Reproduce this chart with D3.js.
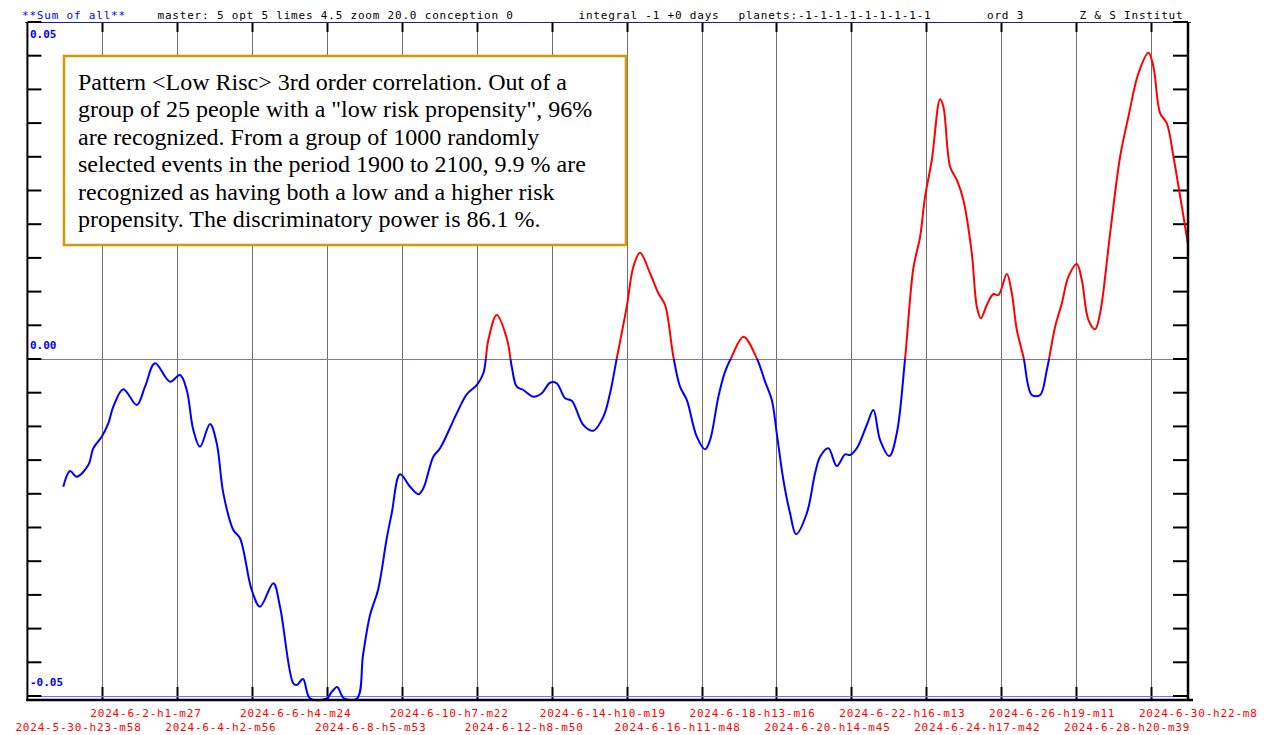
<!DOCTYPE html>
<html><head><meta charset="utf-8">
<script src="https://cdn.jsdelivr.net/npm/d3@7"></script>
<style>body{margin:0;background:#fff;overflow:hidden} svg{display:block}</style>
</head><body><svg id="c" width="1264" height="735"></svg>
<script>
// ---- data ----
const tickLabels = [
  "2024-5-30-h23-m58","2024-6-2-h1-m27","2024-6-4-h2-m56","2024-6-6-h4-m24",
  "2024-6-8-h5-m53","2024-6-10-h7-m22","2024-6-12-h8-m50","2024-6-14-h10-m19",
  "2024-6-16-h11-m48","2024-6-18-h13-m16","2024-6-20-h14-m45","2024-6-22-h16-m13",
  "2024-6-24-h17-m42","2024-6-26-h19-m11","2024-6-28-h20-m39","2024-6-30-h22-m8"
];
// offsets in days from the first tick date
const dayOffsets = [
  0.988,1.173,1.357,1.676,1.814,2.045,2.227,2.365,2.640,3.009,
  3.237,3.512,3.925,4.201,4.385,4.567,4.751,5.026,5.211,5.393,
  5.668,5.852,6.174,6.403,6.769,6.953,7.319,7.413,7.586,7.779,
  8.247,8.357,8.523,8.633,8.715,9.073,9.238,9.431,9.651,9.891,
  10.028,10.257,10.532,10.760,10.898,11.173,11.358,11.817,12.093,12.368,
  12.550,12.687,12.919,13.194,13.332,13.469,13.651,13.926,14.157,14.386,
  14.570,14.799,14.983,15.302,15.577,15.853,16.037,16.222,16.497,16.679,
  16.863,17.138,17.367,17.551,17.780,17.964,18.149,18.424,18.653,18.790,
  19.019,19.203,19.387,19.707,20.076,20.304,20.489,20.626,20.808,20.992,
  21.157,21.452,21.680,21.818,22.046,22.278,22.506,22.644,22.828,23.104,
  23.285,23.470,23.726,23.929,24.158,24.386,24.570,24.708,24.893,25.121,
  25.212,25.397,25.581,25.762,25.994,26.132,26.242,26.407,26.589,26.727,
  26.958,27.095,27.233,27.414,27.646,27.874,28.059,28.287,28.472,28.653,
  28.884,29.022,29.203,29.388,29.525,29.801,30.076,30.305,30.580,30.856,
  30.993,31.178,31.362,31.544,31.775,31.948
];
const values = [
  -0.01895,-0.01662,-0.01746,-0.01573,-0.01325,-0.01153,-0.00954,-0.00708,-0.00450,-0.00682,
  -0.00411,-0.00064,-0.00337,-0.00237,-0.00460,-0.01053,-0.01301,-0.00964,-0.01251,-0.01993,
  -0.02537,-0.02660,-0.03427,-0.03675,-0.03328,-0.03675,-0.04812,-0.04837,-0.04748,-0.05037,
  -0.05037,-0.04955,-0.04866,-0.04970,-0.05037,-0.05037,-0.04392,-0.03798,-0.03427,-0.02660,
  -0.02289,-0.01711,-0.01895,-0.02007,-0.01918,-0.01450,-0.01325,-0.00806,-0.00524,-0.00386,
  -0.00212,0.00282,0.00653,0.00307,-0.00114,-0.00411,-0.00460,-0.00559,-0.00509,-0.00352,
  -0.00361,-0.00583,-0.00619,-0.00979,-0.01064,-0.00856,-0.00509,0.00010,0.00776,0.01369,
  0.01577,0.01272,0.00975,0.00801,0.00034,-0.00411,-0.00608,-0.01153,-0.01340,-0.01202,
  -0.00559,-0.00188,0.00034,0.00331,0.00010,-0.00337,-0.00608,-0.01102,-0.01795,-0.02289,
  -0.02601,-0.02289,-0.01696,-0.01450,-0.01325,-0.01588,-0.01414,-0.01424,-0.01325,-0.00979,
  -0.00757,-0.01202,-0.01439,-0.01102,0.00010,0.01350,0.01810,0.02408,0.02953,0.03853,
  0.03743,0.02853,0.02656,0.02359,0.01568,0.00776,0.00604,0.00801,0.00964,0.00950,
  0.01261,0.00975,0.00430,0.00034,-0.00534,-0.00534,-0.00163,0.00479,0.00826,0.01221,
  0.01409,0.01172,0.00579,0.00441,0.00678,0.01865,0.03001,0.03595,0.04239,0.04545,
  0.04337,0.03645,0.03497,0.03001,0.02260,0.01691
];
const yLabelValues = [0.05, 0.00, -0.05];
const yLabelTexts = ["0.05", "0.00", "-0.05"];
const headerTexts = [
  "**Sum of all**",
  "master: 5  opt 5 limes 4.5 zoom 20.0  conception 0",
  "integral -1 +0 days",
  "planets:-1-1-1-1-1-1-1-1-1",
  "ord 3",
  "Z & S Institut"
];
const noteLines = [
  "Pattern <Low Risc> 3rd order correlation. Out of a",
  "group of 25 people with a \"low risk propensity\", 96%",
  "are recognized. From a group of 1000 randomly",
  "selected events in the period 1900 to 2100, 9.9 % are",
  "recognized as having both a low and a higher risk",
  "propensity. The discriminatory power is 86.1 %."
];

// ---- layout ----
const svg = d3.select("#c");
const L = 27.4, R = 1188, T = 22, B = 700;
const mono = "'DejaVu Sans Mono', monospace";

function parseLabel(s) {
  const p = s.split("-");
  return new Date(+p[0], +p[1] - 1, +p[2], +p[3].slice(1), +p[4].slice(1));
}
const tickDates = tickLabels.map(parseLabel);
const x = d3.scaleTime().domain([tickDates[0], tickDates[tickDates.length - 1]]).range([L, 1150.9]);
const y = d3.scaleLinear().domain([-0.05, 0.05]).range([696, T]);

const data = dayOffsets.map((d, i) => ({ t: new Date(+tickDates[0] + d * 864e5), v: values[i] }));

// grid lines
const gx = tickDates.slice(1).map(d => Math.round(x(d)) + 0.5);
svg.append("g").selectAll("line").data(gx).join("line")
  .attr("x1", d => d).attr("x2", d => d).attr("y1", T).attr("y2", B)
  .attr("stroke", "#707070").attr("stroke-width", 1);
// top/bottom ticks on grid lines
svg.append("g").selectAll("line").data(gx).join("line")
  .attr("x1", d => d).attr("x2", d => d).attr("y1", T).attr("y2", T + 10)
  .attr("stroke", "#000").attr("stroke-width", 2);
svg.append("g").selectAll("line").data(gx).join("line")
  .attr("x1", d => d).attr("x2", d => d).attr("y1", B - 13).attr("y2", B)
  .attr("stroke", "#000").attr("stroke-width", 2);

// zero and lower reference lines
const refLines = [0, -0.05];
svg.append("g").selectAll("rect").data(refLines).join("rect")
  .attr("x", L + 1).attr("width", R - L - 1).attr("y", d => Math.round(y(d))).attr("height", 1)
  .attr("fill", "#6f6fff").attr("shape-rendering", "crispEdges");
// top line
svg.append("line").attr("x1", 25).attr("x2", 1191).attr("y1", T + 0.5).attr("y2", T + 0.5)
  .attr("stroke", "#20208a").attr("stroke-width", 1.2);

// y ticks
const yt = d3.range(0, 21).map(i => -0.05 + i * 0.005);
svg.append("g").selectAll("line").data(yt).join("line")
  .attr("x1", L).attr("x2", L + 14).attr("y1", d => y(d)).attr("y2", d => y(d))
  .attr("stroke", "#000").attr("stroke-width", 2);
svg.append("g").selectAll("line").data(yt).join("line")
  .attr("x1", R - 15).attr("x2", R).attr("y1", d => y(d)).attr("y2", d => y(d))
  .attr("stroke", "#000").attr("stroke-width", 2);

// curve, split in red (above zero) and blue (below zero)
const defs = svg.append("defs");
defs.append("clipPath").attr("id", "above").append("rect")
  .attr("x", 0).attr("y", 0).attr("width", 1264).attr("height", y(0));
defs.append("clipPath").attr("id", "below").append("rect")
  .attr("x", 0).attr("y", y(0)).attr("width", 1264).attr("height", 735 - y(0));
const line = d3.line().x(d => x(d.t)).y(d => y(d.v)).curve(d3.curveCatmullRom.alpha(0.5));
svg.append("path").datum(data).attr("d", line).attr("fill", "none")
  .attr("stroke", "#ff0000").attr("stroke-width", 2).attr("clip-path", "url(#above)");
svg.append("path").datum(data).attr("d", line).attr("fill", "none")
  .attr("stroke", "#0000ff").attr("stroke-width", 2).attr("clip-path", "url(#below)");

// axes frame
svg.append("line").attr("x1", L).attr("x2", L).attr("y1", T).attr("y2", B + 1)
  .attr("stroke", "#000").attr("stroke-width", 2);
svg.append("line").attr("x1", R).attr("x2", R).attr("y1", T).attr("y2", B + 1)
  .attr("stroke", "#000").attr("stroke-width", 2.5);
svg.append("line").attr("x1", L - 1).attr("x2", 1193).attr("y1", B).attr("y2", B)
  .attr("stroke", "#000").attr("stroke-width", 2.5);

// y labels
svg.append("g").selectAll("text").data(yLabelValues).join("text")
  .attr("x", 30).attr("y", (d, i) => i === 0 ? y(d) + 16 : y(d) - 10)
  .attr("font-family", mono).attr("font-size", 11).attr("font-weight", "bold")
  .attr("fill", "#0000ff").text((d, i) => yLabelTexts[i]);

// x labels (alternating rows)
svg.append("g").selectAll("text").data(tickDates).join("text")
  .attr("x", d => x(d) - 12).attr("y", (d, i) => i % 2 === 0 ? 731 : 717)
  .attr("font-family", mono).attr("font-size", 11).attr("letter-spacing", 0.8)
  .attr("fill", "#ff0000").text((d, i) => tickLabels[i]);

// header
const headerX = [22, 157.5, 578.5, 738.5, 987, 1079.5];
svg.append("g").selectAll("text").data(headerTexts).join("text")
  .attr("x", (d, i) => headerX[i]).attr("y", 18.5)
  .attr("font-family", mono).attr("font-size", 11).attr("letter-spacing", 0.8)
  .attr("fill", (d, i) => i === 0 ? "#0000ff" : "#000").text(d => d);

// annotation box
svg.append("rect").attr("x", 64).attr("y", 56).attr("width", 562).attr("height", 189)
  .attr("fill", "#fff").attr("stroke", "#d09c0c").attr("stroke-width", 2.6);
svg.append("g").selectAll("text").data(noteLines).join("text")
  .attr("x", 78).attr("y", (d, i) => 90 + i * 27.4)
  .attr("font-family", "'Liberation Serif', 'Times New Roman', serif").attr("font-size", 24)
  .attr("fill", "#000").text(d => d);
</script>
</body></html>
